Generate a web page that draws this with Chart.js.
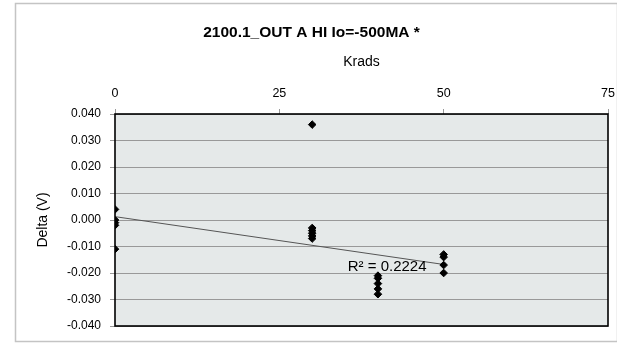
<!DOCTYPE html>
<html>
<head>
<meta charset="utf-8">
<script src="https://cdn.jsdelivr.net/npm/chart.js@4/dist/chart.umd.min.js"></script>
<style>
  html, body { margin: 0; padding: 0; background: #fff; }
  #wrap { width: 617px; height: 345px; }
</style>
</head>
<body>
<div id="wrap"><canvas id="chart" width="617" height="345"></canvas></div>
<script>
// values
const krads0 = [0, 0, 0, 0, 0];
const delta0 = [0.004, 0.000, -0.001, -0.002, -0.011];
const krads30 = [30, 30, 30, 30, 30, 30];
const delta30 = [0.036, -0.003, -0.004, -0.005, -0.006, -0.007];
const krads40 = [40, 40, 40, 40, 40];
const delta40 = [-0.021, -0.022, -0.024, -0.026, -0.028];
const krads50 = [50, 50, 50, 50];
const delta50 = [-0.013, -0.014, -0.017, -0.020];

const xTickLabels = ['0', '25', '50', '75'];
const yTickLabels = ['-0.040', '-0.030', '-0.020', '-0.010', '0.000', '0.010', '0.020', '0.030', '0.040'];
const rSquaredText = 'R² = 0.2224';

const FONT = 'Arial, "Liberation Sans", sans-serif';

// build points
const allX = [...krads0, ...krads30, ...krads40, ...krads50];
const allY = [...delta0, ...delta30, ...delta40, ...delta50];
const points = allX.map((x, i) => ({ x: x, y: allY[i] }));

// linear trendline (least squares, like Excel)
function linearFit(xs, ys) {
    const n = xs.length;
    const mx = xs.reduce((a, b) => a + b, 0) / n;
    const my = ys.reduce((a, b) => a + b, 0) / n;
    let sxy = 0, sxx = 0;
    for (let i = 0; i < n; i++) {
        sxy += (xs[i] - mx) * (ys[i] - my);
        sxx += (xs[i] - mx) * (xs[i] - mx);
    }
    const slope = sxy / sxx;
    return { slope: slope, intercept: my - slope * mx };
}
const fit = linearFit(allX, allY);
const xMin = Math.min(...allX);
const xMax = Math.max(...allX);
const trend = [
    { x: xMin, y: fit.intercept + fit.slope * xMin },
    { x: xMax, y: fit.intercept + fit.slope * xMax }
];

// plot background, frame and outer border
const framePlugin = {
    id: 'frame',
    beforeDraw(chart) {
        const ctx = chart.ctx;
        const a = chart.chartArea;
        ctx.save();
        ctx.fillStyle = '#fff';
        ctx.fillRect(0, 0, chart.width, chart.height);
        ctx.fillStyle = '#E5E9E9';
        ctx.fillRect(a.left, a.top, a.right - a.left, a.bottom - a.top);
        ctx.strokeStyle = '#c4c4c4';
        ctx.lineWidth = 1.5;
        ctx.strokeRect(15.5, 3.5, 602, 338);
        ctx.restore();
    },
    beforeDatasetsDraw(chart) {
        const ctx = chart.ctx;
        const a = chart.chartArea;
        ctx.save();
        ctx.strokeStyle = '#000';
        ctx.lineWidth = 1.6;
        ctx.strokeRect(a.left, a.top, a.right - a.left, a.bottom - a.top);
        ctx.restore();
    },
    afterDatasetsDraw(chart) {
        const ctx = chart.ctx;
        const xs = chart.scales.x;
        const ys = chart.scales.y;
        ctx.save();
        ctx.font = '15px ' + FONT;
        ctx.fillStyle = '#000';
        ctx.textAlign = 'center';
        ctx.textBaseline = 'middle';
        ctx.fillText(rSquaredText, xs.getPixelForValue(41.4), ys.getPixelForValue(-0.0176));
        ctx.restore();
    }
};

new Chart(document.getElementById('chart'), {
    type: 'scatter',
    data: {
        datasets: [
            {
                label: 'Delta',
                data: points,
                pointStyle: 'rectRot',
                pointRadius: 3.8,
                backgroundColor: '#000',
                borderColor: '#000',
                borderWidth: 1,
                showLine: false,
                order: 1
            },
            {
                label: 'Trend',
                data: trend,
                showLine: true,
                pointRadius: 0,
                borderColor: '#555',
                borderWidth: 1,
                order: 2
            }
        ]
    },
    options: {
        responsive: false,
        animation: false,
        layout: { padding: { left: 15, right: 9, top: 3, bottom: 19 } },
        plugins: {
            legend: { display: false },
            tooltip: { enabled: false },
            title: {
                display: true,
                text: '2100.1_OUT A HI Io=-500MA *',
                color: '#000',
                font: { family: FONT, size: 15.5, weight: 'bold' },
                padding: { top: 20, bottom: 0 }
            }
        },
        scales: {
            x: {
                type: 'linear',
                position: 'top',
                min: 0,
                max: 75,
                afterFit(scale) {
                    scale.height = 72.4;
                    scale.paddingLeft = 0;
                    scale.paddingRight = 0;
                },
                ticks: {
                    stepSize: 25,
                    color: '#000',
                    font: { family: FONT, size: 12.5 },
                    padding: 8,
                    maxRotation: 0,
                    callback: (v, i) => xTickLabels[i]
                },
                grid: { drawOnChartArea: false, drawTicks: true, tickLength: 5, color: '#999' },
                border: { display: false },
                title: {
                    display: true,
                    text: 'Krads',
                    color: '#000',
                    font: { family: FONT, size: 14 },
                    padding: { top: 12, bottom: 0 }
                }
            },
            y: {
                type: 'linear',
                min: -0.04,
                max: 0.04,
                afterFit(scale) { scale.width = 100; },
                ticks: {
                    stepSize: 0.01,
                    color: '#000',
                    font: { family: FONT, size: 12 },
                    padding: 9,
                    callback: (v, i) => yTickLabels[i]
                },
                grid: { color: '#999', lineWidth: 1, drawTicks: true, tickLength: 5, tickColor: '#999' },
                border: { display: false },
                title: {
                    display: true,
                    text: 'Delta (V)',
                    color: '#000',
                    font: { family: FONT, size: 14 },
                    padding: { top: 20, bottom: 0 }
                }
            }
        }
    },
    plugins: [framePlugin]
});
</script>
</body>
</html>
